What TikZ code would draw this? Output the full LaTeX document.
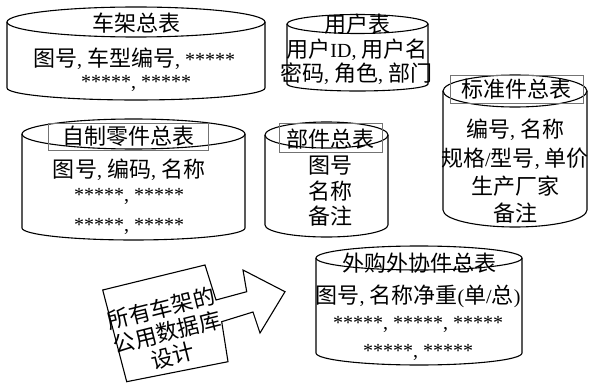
\documentclass[tikz,border=0pt]{standalone}
\usepackage{fontspec}
\setmainfont{Liberation Serif}
\newfontfamily\cjk[Scale=1.1]{Noto Sans CJK SC}
\newcommand\zh[1]{{\cjk #1}}
\begin{document}
\begin{tikzpicture}[x=1pt,y=-1pt,
  cylline/.style={draw=black,line width=1.1pt},
  txt/.style={font=\fontsize{20}{24}\selectfont,inner sep=0pt,anchor=base},
  titlebox/.style={draw=black!55,line width=0.6pt,inner sep=0pt},
  arrowline/.style={draw=black,line width=1.1pt,line join=miter}]
\useasboundingbox (0,0) rectangle (589,385);
\fill[white] (0,0) rectangle (589,385);
% cx, rx, top cy, top ry, bottom cy, bottom ry
\newcommand\dbcyl[6]{%
  \draw[cylline] (#1,#3) ellipse [x radius=#2pt, y radius=#4pt];
  \draw[cylline] (#1-#2,#3) -- (#1-#2,#5)
     arc[start angle=180,end angle=360,x radius=#2pt,y radius=#6pt] -- (#1+#2,#3);}
% cylinders
\dbcyl{136}{129}{22}{15}{88}{12}
\dbcyl{357.5}{70.5}{24}{9.5}{84}{7}
\dbcyl{515}{72}{91}{16}{210}{17}
\dbcyl{326.5}{61.5}{135}{13}{225}{12}
\dbcyl{133.5}{111.5}{134}{15}{228}{12}
\dbcyl{419}{103}{258}{12}{353}{12}
% title boxes
\node[titlebox,minimum width=160pt,minimum height=27pt] (b5) at (128,136.5) {};
\node[titlebox,minimum width=103pt,minimum height=29pt] (b4) at (330.5,137.5) {};
\node[titlebox,minimum width=133pt,minimum height=28pt] (b3) at (516.5,89) {};
% table 1
\node[txt] (t1) at (136,32) {\zh{车架总表}};
\node[txt] (t1a) at (134,66.5) {\zh{图号}, \zh{车型编号}, *****};
\node[txt] (t1b) at (136,89) {*****, *****};
% table 2
\node[txt] (t2) at (357,33) {\zh{用户表}};
\node[txt] (t2a) at (357,57.5) {\zh{用户}ID, \zh{用户名}};
\node[txt] (t2b) at (356,81.5) {\zh{密码}, \zh{角色}, \zh{部门}};
% table 3
\node[txt] (t3) at (516,98) {\zh{标准件总表}};
\node[txt] (t3a) at (515,138) {\zh{编号}, \zh{名称}};
\node[txt] (t3b) at (515,166.5) {\zh{规格}/\zh{型号}, \zh{单价}};
\node[txt] (t3c) at (515,194) {\zh{生产厂家}};
\node[txt] (t3d) at (515,221) {\zh{备注}};
% table 4
\node[txt] (t4) at (330,147) {\zh{部件总表}};
\node[txt] (t4a) at (330,173) {\zh{图号}};
\node[txt] (t4b) at (330,199) {\zh{名称}};
\node[txt] (t4c) at (330,224) {\zh{备注}};
% table 5
\node[txt] (t5) at (128,144.5) {\zh{自制零件总表}};
\node[txt] (t5a) at (129,178) {\zh{图号}, \zh{编码}, \zh{名称}};
\node[txt] (t5b) at (129,201) {*****, *****};
\node[txt] (t5c) at (129,231) {*****, *****};
% table 6
\node[txt] (t6) at (419,271.5) {\zh{外购外协件总表}};
\node[txt] (t6a) at (418,303) {\zh{图号}, \zh{名称净重}(\zh{单}/\zh{总})};
\node[txt] (t6b) at (418,329) {*****, *****, *****};
\node[txt] (t6c) at (418,357) {*****, *****};
% block arrow
\draw[arrowline] (102.7,290) -- (205,265) -- (216,300) -- (246.7,291.7) -- (243,270)
  -- (285,291.7) -- (260,333) -- (253,312) -- (221.7,321.7) -- (228,361.7)
  -- (126.7,381.7) -- cycle;
\node[font=\fontsize{20}{24.5}\selectfont,inner sep=0pt,align=center,rotate=14] (arr) at (167,332)
  {\zh{所有车架的}\\\zh{公用数据库}\\\zh{设计}};
\end{tikzpicture}
\end{document}
